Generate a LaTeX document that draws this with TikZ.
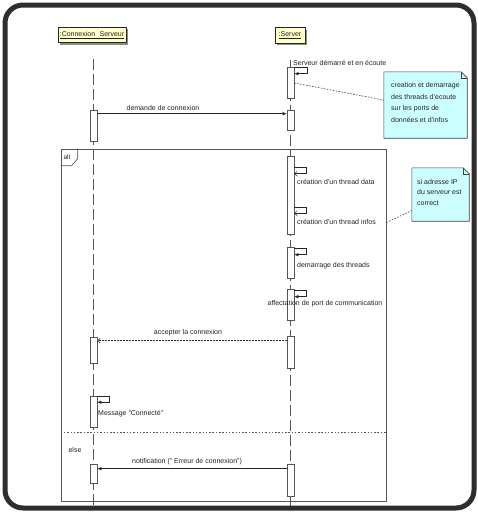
\documentclass[tikz,border=0pt]{standalone}
\usepackage{fontspec}
\setmainfont{Liberation Sans}
\usetikzlibrary{arrows.meta,calc}
\definecolor{framec}{HTML}{2E2E2E}
\definecolor{linec}{HTML}{555555}
\definecolor{headfill}{HTML}{FFFFC8}
\definecolor{notefill}{HTML}{CCFFFF}
\definecolor{txt}{HTML}{222222}
\begin{document}
\begin{tikzpicture}[x=1pt,y=-1pt,
  font=\fontsize{7}{8.5}\selectfont, text=txt,
  lifeline/.style={draw=linec, line width=0.6pt, dash pattern=on 11pt off 4pt},
  bar/.style={draw=linec, fill=white, line width=0.6pt, minimum width=7pt, inner sep=0pt, rectangle},
  head/.style={draw=black!85, fill=headfill, line width=0.6pt, minimum height=15.5pt, inner sep=0pt},
  headshadow/.style={fill=black!45},
  msg/.style={draw=black!85, line width=0.6pt, -{Latex[length=4pt,width=3.5pt]}},
  openmsg/.style={draw=black!85, line width=0.5pt, -{Straight Barb[length=2.5pt,width=5pt]}},
  reply/.style={draw=black!85, line width=0.6pt, dash pattern=on 1.5pt off 1.5pt, -{Straight Barb[length=2.5pt,width=5pt]}},
  notebox/.style={inner sep=0pt},
  noteshape/.style={draw=black!75, fill=notefill, line width=0.6pt},
  notelink/.style={draw=black!75, line width=0.6pt, dash pattern=on 1.5pt off 1.5pt},
  altframe/.style={draw=linec, line width=0.7pt, inner sep=0pt},
  lbl/.style={inner sep=0pt},
]
\useasboundingbox (0,0) rectangle (478,512);
\fill[white] (0,0) rectangle (478,512);

% outer frame
\draw[framec, line width=5pt, rounded corners=18pt] (5,5) rectangle (474,508);

% heads
\fill[headshadow] (60,29) rectangle (128,45);
\node[head, minimum width=68pt] (hc) at (92,35) {\underline{:Connexion\hspace{2.5pt} Serveur}};
\fill[headshadow] (277,30) rectangle (307,45);
\node[head, minimum width=30pt] (hs) at (290,35.5) {\underline{:Server}};

% alt frame
\node[altframe, minimum width=325pt, minimum height=352pt] (alt) at (223.5,325) {};
\draw[linec, line width=0.7pt] ($(alt.north west)+(17,0)$) -- ++(0,10) -- ++(-6,7) -- ++(-11,0);
\node[lbl, font=\fontsize{6.5}{8}\selectfont] (altl) at (67,157) {alt};
\draw[linec, line width=0.7pt, dash pattern=on 1.5pt off 1.8pt] ($(alt.north west)+(0,284)$) -- ($(alt.north east)+(0,284)$);
\node[lbl] (elsel) at (75,450) {else};

% lifelines
\coordinate (lc0) at (93.5,59);
\coordinate (lc1) at (93.5,506);
\coordinate (ls0) at (290.5,60);
\coordinate (ls1) at (290.5,506);
\draw[lifeline] (lc0) -- (lc1);
\draw[lifeline] (ls0) -- (ls1);

% activation bars, Connexion Serveur
\node[bar, minimum height=31pt] (cb1) at (93.5,125.5) {};
\node[bar, minimum height=26pt] (cb2) at (93.5,350) {};
\node[bar, minimum height=31pt] (cb3) at (93.5,411.5) {};
\node[bar, minimum height=19pt] (cb4) at (93.5,473.5) {};
% activation bars, Server
\node[bar, minimum height=31pt] (s1) at (290.5,82.5) {};
\node[bar, minimum height=20pt] (s2) at (290.5,120) {};
\node[bar, minimum height=78pt] (s3) at (290.5,195) {};
\node[bar, minimum height=31pt] (s4) at (290.5,262.5) {};
\node[bar, minimum height=31pt] (s5) at (290.5,304.5) {};
\node[bar, minimum height=32pt] (s6) at (290.5,352) {};
\node[bar, minimum height=32pt] (s7) at (290.5,480) {};

% self messages
\draw[msg] ($(s1.north east)+(0,1)$) -- ++(13,0) -- ++(0,6) -- ++(-13,0);
\node[lbl, anchor=west] (m1) at (293,63) {Serveur démarré et en écoute};

\draw[openmsg] ($(s3.north east)+(0,12)$) -- ++(12,0) -- ++(0,6) -- ++(-12,0);
\node[lbl, anchor=west] (m3) at (297,182) {création d'un thread data};
\draw[openmsg] ($(s3.north east)+(0,52)$) -- ++(12,0) -- ++(0,5.5) -- ++(-12,0);
\node[lbl, anchor=west] (m4) at (297,222) {création d'un thread infos};

\draw[msg] ($(s4.north east)+(0,2)$) -- ++(12,0) -- ++(0,6) -- ++(-12,0);
\node[lbl, anchor=west] (m5) at (297,266) {demarrage des threads};

\draw[msg] ($(s5.north east)+(0,2)$) -- ++(12,0) -- ++(0,6) -- ++(-12,0);
\node[lbl] (m6) at (325,304) {affectation de port de communication};

\draw[msg] ($(cb3.north east)+(0,1)$) -- ++(12,0) -- ++(0,5.5) -- ++(-12,0);
\node[lbl, anchor=west] (m9) at (98,414) {Message "Connecté"};

% messages between lifelines
\draw[msg] ($(cb1.north east)+(0,4)$) -- ($(s2.north west)+(0,4)$);
\node[lbl] (m2) at (163,108) {demande de connexion};

\coordinate (a7) at ($(s6.north west)+(0,5)$);
\draw[reply] (a7) -- (cb2.east |- a7);
\node[lbl] (m7) at (188,333) {accepter la connexion};

\coordinate (a10) at ($(s7.north west)+(0,5)$);
\draw[msg] (a10) -- (cb4.east |- a10);
\node[lbl] (m10) at (187,462) {notification (" Erreur de connexion")};

% note 1
\node[notebox, minimum width=83pt, minimum height=66pt] (n1) at (425.5,105) {};
\draw[noteshape] (n1.north west) -- ($(n1.north east)+(-6,0)$) -- ($(n1.north east)+(0,6)$) -- (n1.south east) -- (n1.south west) -- cycle;
\draw[black!75, line width=0.6pt] ($(n1.north east)+(-6,0)$) -- ++(0,6) -- ++(6,0);
\node[lbl, anchor=north west, align=left, font=\fontsize{7}{11.8}\selectfont] (n1t) at (391,82) {creation et demarrage\\des threads d'ecoute\\sur les ports de\\données et d'infos};
\draw[notelink] ($(s1.east)+(0,0.5)$) -- ($(n1.west)+(0,-5)$);

% note 2
\node[notebox, minimum width=57pt, minimum height=53pt] (n2) at (440.5,194.5) {};
\draw[noteshape] (n2.north west) -- ($(n2.north east)+(-6,0)$) -- ($(n2.north east)+(0,6)$) -- (n2.south east) -- (n2.south west) -- cycle;
\draw[black!75, line width=0.6pt] ($(n2.north east)+(-6,0)$) -- ++(0,6) -- ++(6,0);
\node[lbl, anchor=north west, align=left, font=\fontsize{7}{10.5}\selectfont] (n2t) at (417,179) {si adresse IP\\du serveur est\\correct};
\draw[notelink] ($(alt.north east)+(0,74)$) -- ($(n2.west)+(0,16)$);
\end{tikzpicture}
\end{document}
